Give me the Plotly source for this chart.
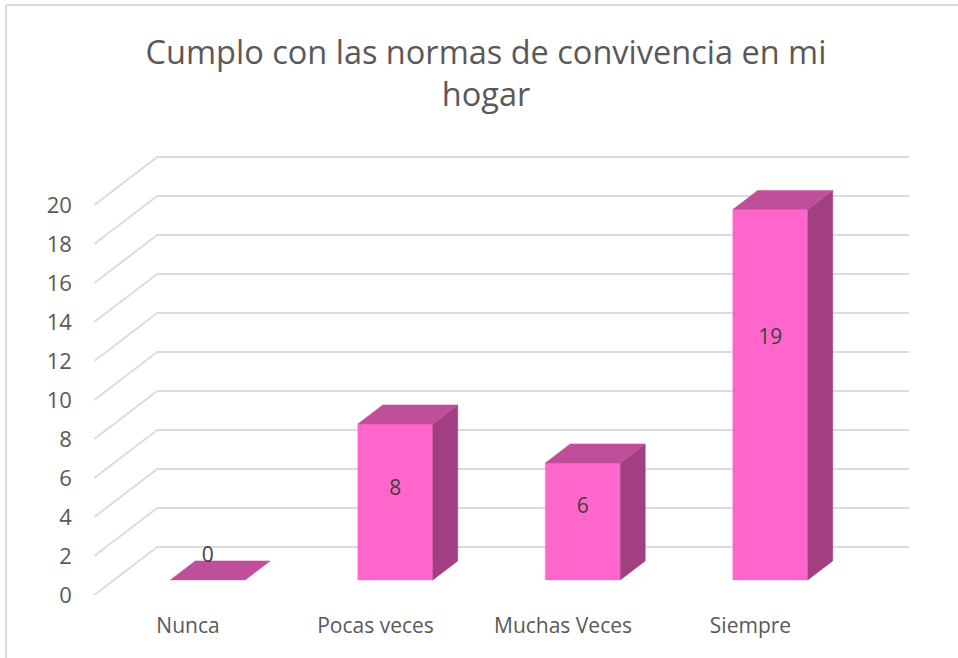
import plotly.graph_objects as go

TITLE = "Cumplo con las normas de convivencia en mi<br>hogar"
categories = ["Nunca", "Pocas veces", "Muchas Veces", "Siempre"]
values = [0, 8, 6, 19]
y_ticks = [0, 2, 4, 6, 8, 10, 12, 14, 16, 18, 20]
label_heights = [1.95, 5.4, 4.48, 13.15]

W, H = 958, 658
PX_LEFT, PX_RIGHT, PX_TOP, PX_BOTTOM = 94.25, 909.0, 130.0, 595.0
PX_PER_CAT, PX_PER_UNIT = 187.5, 19.5
DX_WALL, DY_WALL = 63.0, 48.0
D_FRONT, D_BACK = 0.315, 0.71
HALF = 0.2

x0 = -0.5
x1 = x0 + (PX_RIGHT - PX_LEFT) / PX_PER_CAT
y1 = (PX_BOTTOM - PX_TOP) / PX_PER_UNIT

def proj(x, y, d):
    return x + d * DX_WALL / PX_PER_CAT, y + d * DY_WALL / PX_PER_UNIT

def poly(points, color):
    xs = [p[0] for p in points] + [points[0][0]]
    ys = [p[1] for p in points] + [points[0][1]]
    return go.Scatter(x=xs, y=ys, mode="lines", fill="toself", fillcolor=color,
                      line=dict(color=color, width=0.5), hoverinfo="skip",
                      showlegend=False)

GRID = "#dcdcdc"
FRONT, TOP, SIDE = "#ff66cc", "#c04f9a", "#a23f80"
TEXT = "#595959"

fig = go.Figure()
for t in y_ticks:
    a = proj(x0, t, 0)
    b = proj(x0, t, 1)
    fig.add_trace(go.Scatter(x=[a[0], b[0], x1], y=[a[1], b[1], b[1]], mode="lines",
                             line=dict(color=GRID, width=2), hoverinfo="skip",
                             showlegend=False))

for i, v in enumerate(values):
    l, r = i - HALF, i + HALF
    if v > 0:
        fig.add_trace(poly([proj(l, 0, D_FRONT), proj(r, 0, D_FRONT),
                            proj(r, v, D_FRONT), proj(l, v, D_FRONT)], FRONT))
        fig.add_trace(poly([proj(r, 0, D_FRONT), proj(r, 0, D_BACK),
                            proj(r, v, D_BACK), proj(r, v, D_FRONT)], SIDE))
    fig.add_trace(poly([proj(l, v, D_FRONT), proj(r, v, D_FRONT),
                        proj(r, v, D_BACK), proj(l, v, D_BACK)], TOP))

fig.add_trace(go.Scatter(
    x=[proj(i, 0, D_FRONT)[0] for i in range(len(values))],
    y=label_heights, mode="text", text=[str(v) for v in values],
    textposition="middle center", textfont=dict(family="Open Sans", size=21, color="#404040"),
    hoverinfo="skip", showlegend=False))

fig.update_layout(
    width=W, height=H, autosize=False, showlegend=False,
    paper_bgcolor="white", plot_bgcolor="rgba(0,0,0,0)",
    margin=dict(l=0, r=0, t=0, b=0, autoexpand=False),
    title=dict(text=TITLE, x=486 / W, xanchor="center", y=1 - 64 / H, yanchor="middle",
               automargin=False, font=dict(family="Open Sans", size=32.5, color=TEXT)),
    xaxis=dict(domain=[PX_LEFT / W, PX_RIGHT / W], range=[x0, x1], tickmode="array",
               tickvals=list(range(len(categories))), ticktext=categories, automargin=False,
               showgrid=False, zeroline=False, showline=False, ticks="outside",
               ticklen=12, tickcolor="rgba(0,0,0,0)",
               tickfont=dict(family="Open Sans", size=21, color=TEXT)),
    yaxis=dict(domain=[1 - PX_BOTTOM / H, 1 - PX_TOP / H], range=[0, y1], tickmode="array",
               tickvals=y_ticks, ticktext=[str(t) for t in y_ticks], automargin=False,
               showgrid=False, zeroline=False, showline=False, ticks="outside",
               ticklen=17, tickcolor="rgba(0,0,0,0)",
               tickfont=dict(family="Open Sans", size=22, color=TEXT)),
    shapes=[
        dict(type="line", xref="paper", yref="paper", x0=6 / W, x1=6 / W, y0=0, y1=1 - 5 / H,
             line=dict(color="#dcdcdc", width=2)),
        dict(type="line", xref="paper", yref="paper", x0=6 / W, x1=1, y0=1 - 5 / H, y1=1 - 5 / H,
             line=dict(color="#dcdcdc", width=2)),
    ],
)
fig.write_html("out.html", config={"displayModeBar": False},
               post_script="document.body.style.margin='0';")
